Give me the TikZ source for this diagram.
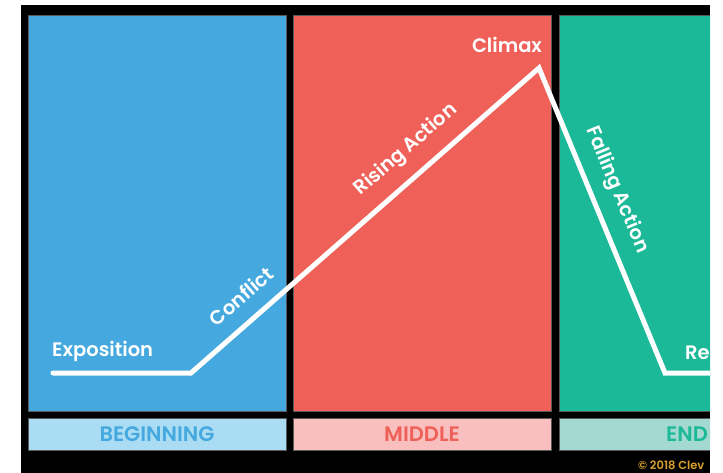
\documentclass[tikz,border=0pt]{standalone}
\usepackage{fontspec}
\setmainfont{Poppins}[BoldFont={Poppins SemiBold}]
\definecolor{cblue}{HTML}{45A9DF}
\definecolor{cred}{HTML}{EF6058}
\definecolor{cgreen}{HTML}{1CB998}
\definecolor{lblue}{HTML}{AADDF3}
\definecolor{lred}{HTML}{F9BFBE}
\definecolor{lgreen}{HTML}{A3D9D0}
\definecolor{cgold}{HTML}{D9A030}
\tikzset{
  panel/.style={draw=black!65, line width=0.8pt},
  plot/.style={draw=white, line width=5pt, line cap=round, line join=miter},
  lab/.style={text=white, font=\fontsize{19.5}{19.5}\selectfont\bfseries, inner sep=0pt},
  barlab/.style={font=\fontsize{21}{21}\selectfont\bfseries, inner sep=0pt},
}
\begin{document}
\begin{tikzpicture}[x=1pt,y=-1pt]
\useasboundingbox (0,0) rectangle (723,473);
\fill[black] (21,5) rectangle (710,473);
\begin{scope}
\clip (21,5) rectangle (710,473);
% panels
\path[panel, fill=cblue] (28,15) rectangle (286,411);
\path[panel, fill=cred] (293,15) rectangle (551,411);
\path[panel, fill=cgreen] (559,15) rectangle (817,411);
\path[panel, fill=lblue] (28,418) rectangle (286,450);
\path[panel, fill=lred] (293,418) rectangle (551,450);
\path[panel, fill=lgreen] (559,418) rectangle (817,450);
\node[barlab, text=cblue] (beg) at (157,434) {BEGINNING};
\node[barlab, text=cred] (mid) at (422,434) {MIDDLE};
\node[barlab, text=cgreen, anchor=west] (end) at (666,434) {END};
% plot line
\coordinate (e0) at (53,373);
\coordinate (e1) at (191,373);
\coordinate (cl) at (539,68);
\coordinate (r0) at (665,373);
\coordinate (r1) at (740,373);
\draw[plot] (e0) -- (e1) -- (cl) -- (r0) -- (r1);
% labels
\node[lab, anchor=west] (expo) at (52,351) {Exposition};
\node[lab, rotate=41] (conf) at (241,296) {Conflict};
\node[lab, rotate=41] (rise) at (406,150) {Rising Action};
\node[lab] (clim) at (507,45) {Climax};
\node[lab, rotate=-67.6] (fall) at (617,190) {Falling Action};
\node[lab, anchor=west] (reso) at (685,353) {Re};
\node[text=cgold, anchor=west, inner sep=0pt, font=\fontsize{11.5}{11.5}\selectfont\bfseries] (copy) at (638,465) {© 2018 Clev};
\end{scope}
\end{tikzpicture}
\end{document}
